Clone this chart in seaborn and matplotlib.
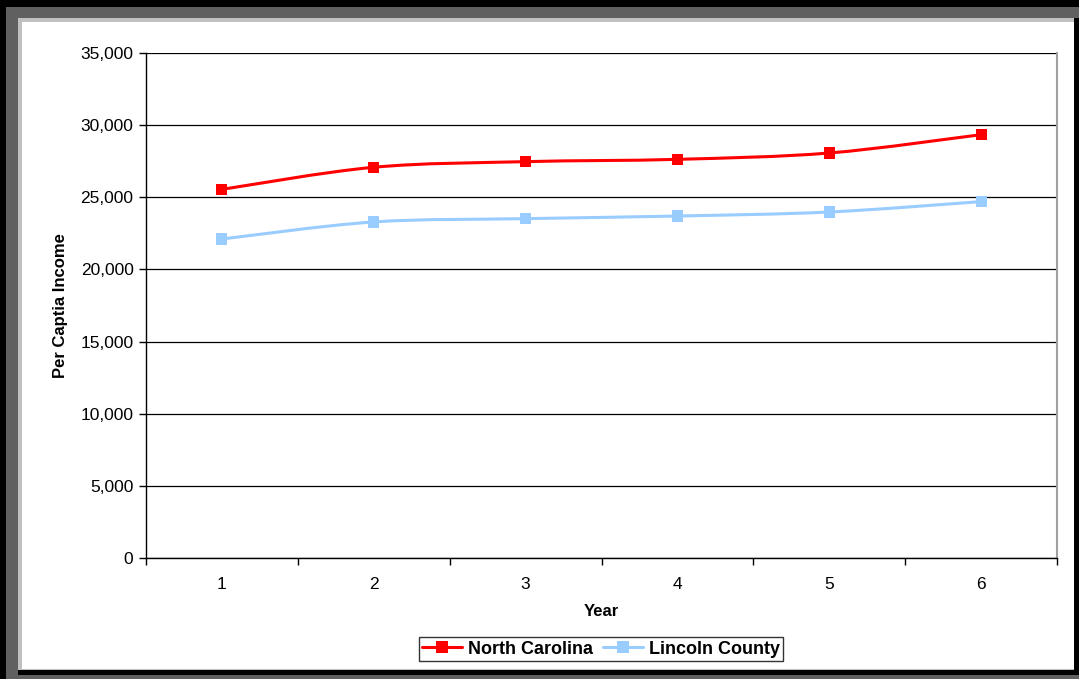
import numpy as np
import pandas as pd
import matplotlib
matplotlib.use("Agg")
import matplotlib.pyplot as plt
import seaborn as sns
from matplotlib.patches import Rectangle, PathPatch
from matplotlib.path import Path
from matplotlib.lines import Line2D
from matplotlib.ticker import FuncFormatter, MultipleLocator

years = [1, 2, 3, 4, 5, 6]
north_carolina = [25550, 27080, 27470, 27630, 28070, 29340]
lincoln_county = [22110, 23290, 23520, 23700, 23980, 24700]
series_names = ["North Carolina", "Lincoln County"]
series_colors = ["#FF0000", "#99CCFF"]

df = pd.DataFrame({
    "Year": years * 2,
    "Income": north_carolina + lincoln_county,
    "Series": [series_names[0]] * 6 + [series_names[1]] * 6,
})

sns.set_style("white")
plt.rcParams["font.family"] = ["Liberation Sans", "DejaVu Sans"]
plt.rcParams["text.color"] = "black"
plt.rcParams["axes.labelcolor"] = "black"
plt.rcParams["xtick.color"] = "black"
plt.rcParams["ytick.color"] = "black"

W, H = 1079, 679
fig = plt.figure(figsize=(W / 100, H / 100), dpi=100)


def px_rect(x0, y0, x1, y1, color):
    # rectangle given in pixel coords from the top-left corner
    r = Rectangle((x0 / W, 1 - y1 / H), (x1 - x0) / W, (y1 - y0) / H,
                  transform=fig.transFigure, facecolor=color, edgecolor="none", zorder=-10)
    fig.patches.append(r)


# frame with shadow like the old excel chart
px_rect(0, 0, W, H, "#000000")
px_rect(6, 7, W, H, "#606060")
px_rect(18, 18, W, 675, "#000000")
px_rect(18, 18, 1074, 670, "#C0C0C0")
px_rect(22, 22, 1074, 669, "#FFFFFF")

ax = fig.add_axes([146 / W, 1 - 558 / H, (1057 - 146) / W, (558 - 53) / H])
ax.set_facecolor("white")


def smooth_path(xs, ys):
    # bezier segments through the points (excel style smoothed line)
    pts = np.column_stack([xs, ys]).astype(float)
    n = len(pts)
    verts = [pts[0]]
    codes = [Path.MOVETO]
    for i in range(n - 1):
        p0 = pts[i - 1] if i > 0 else pts[i]
        p1 = pts[i]
        p2 = pts[i + 1]
        p3 = pts[i + 2] if i + 2 < n else pts[i + 1]
        c1 = p1 + (p2 - p0) / 6
        c2 = p2 - (p3 - p1) / 6
        verts += [c1, c2, p2]
        codes += [Path.CURVE4] * 3
    return Path(verts, codes)


for name, color in zip(series_names, series_colors):
    sub = df[df["Series"] == name]
    ax.add_patch(PathPatch(smooth_path(sub["Year"], sub["Income"]), facecolor="none",
                           edgecolor=color, linewidth=2.2, zorder=3))
    sns.scatterplot(data=sub, x="Year", y="Income", marker="s", s=64, color=color,
                    edgecolor="none", linewidth=0, ax=ax, zorder=4, legend=False)

ax.set_xlim(0.5, 6.5)
ax.set_ylim(0, 35000)
ax.yaxis.set_major_locator(MultipleLocator(5000))
ax.yaxis.set_major_formatter(FuncFormatter(lambda v, p: f"{int(v):,}"))
ax.set_xticks(years)
ax.set_xticks(np.arange(0.5, 7, 1), minor=True)
ax.grid(axis="y", color="black", linewidth=0.9)
ax.set_axisbelow(True)

for s in ["left", "bottom"]:
    ax.spines[s].set_color("black")
    ax.spines[s].set_linewidth(1.0)
ax.spines["right"].set_visible(True)
ax.spines["right"].set_color("#A0A0A0")
ax.spines["right"].set_linewidth(1.5)
ax.spines["top"].set_visible(False)

ax.tick_params(axis="y", which="major", direction="out", length=5, width=1,
               color="black", labelsize=12.5, pad=4, left=True)
ax.tick_params(axis="x", which="major", length=0, labelsize=12.5, pad=14, bottom=True)
ax.tick_params(axis="x", which="minor", direction="out", length=5, width=1,
               color="black", bottom=True)

ax.set_xlabel("Year", fontsize=12, fontweight="bold", labelpad=8)
ax.set_ylabel("Per Captia Income", fontsize=12, fontweight="bold", labelpad=9)

handles = [Line2D([], [], color=c, linewidth=2.2, marker="s", markersize=8,
                  markeredgewidth=0) for c in series_colors]
leg = fig.legend(handles, series_names, loc="center", ncol=2,
                 bbox_to_anchor=(601 / W, 1 - 649 / H), frameon=True,
                 prop={"weight": "bold", "size": 13}, handlelength=2.2,
                 handletextpad=0.3, columnspacing=0.6, borderpad=0.2,
                 fancybox=False)
leg.get_frame().set_edgecolor("black")
leg.get_frame().set_linewidth(1.0)

fig.savefig("out.png", dpi=100)
